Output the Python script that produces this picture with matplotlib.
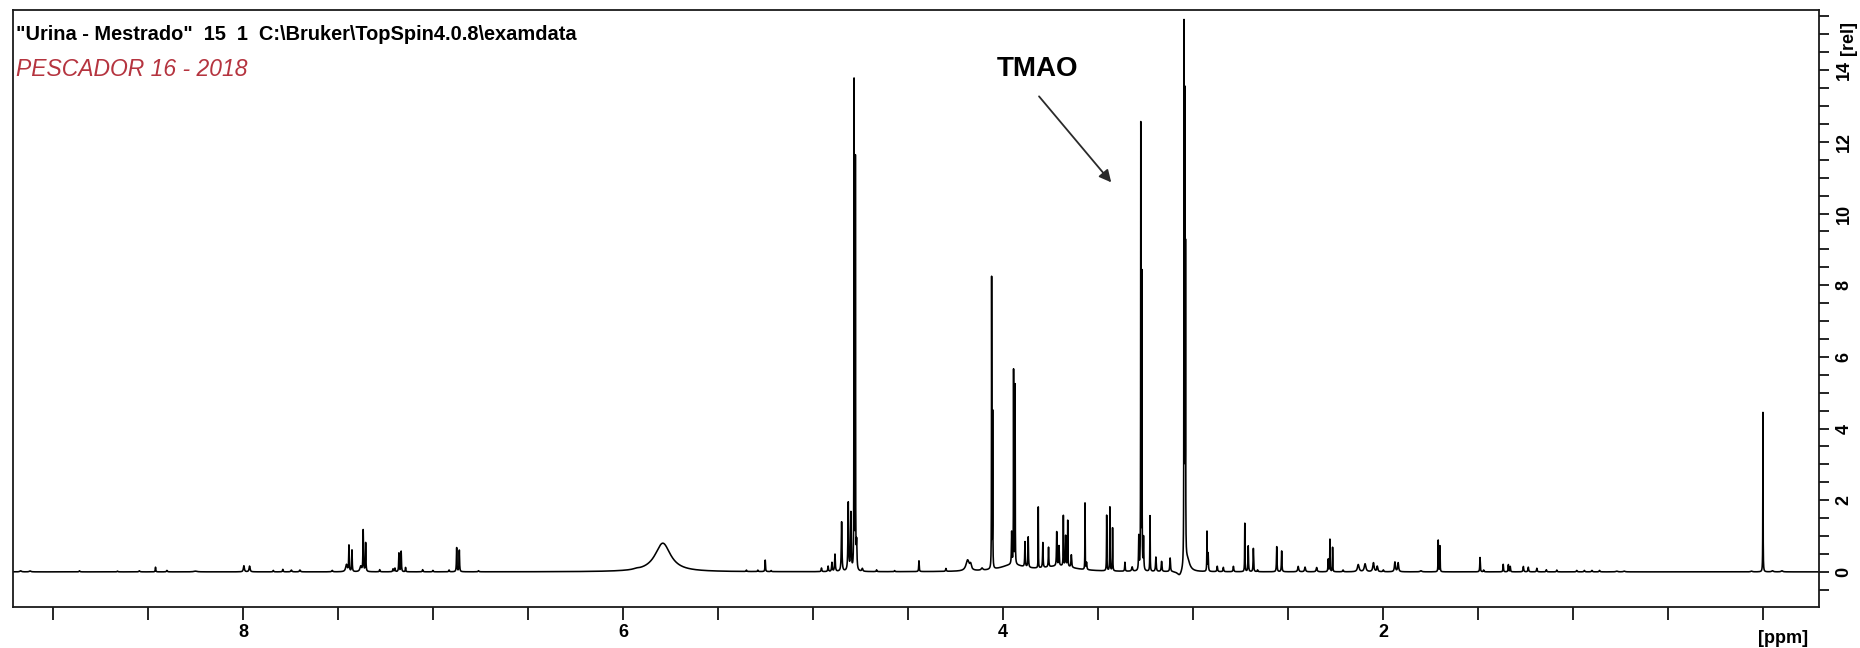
import numpy as np
import matplotlib
matplotlib.use("Agg")
import matplotlib.pyplot as plt
from matplotlib.ticker import FixedLocator, MultipleLocator

plt.rcParams["font.family"] = ["Liberation Sans", "DejaVu Sans"]

# 1H NMR signals of the urine sample: chemical shift (ppm), intensity (rel), line width (ppm)
shift_ppm = [
    9.17, 9.12, 8.86, 8.66, 8.545, 8.46, 8.40, 8.25, 7.995, 7.965,
    7.84, 7.79, 7.745, 7.70, 7.53, 7.455, 7.442, 7.426, 7.38, 7.367,
    7.354, 7.28, 7.21, 7.20, 7.179, 7.167, 7.144, 7.054, 7.00, 6.915,
    6.875, 6.861, 6.76,
    5.93, 5.79, 5.35, 5.29, 5.251, 5.22,
    4.955, 4.92, 4.90, 4.884, 4.849, 4.814, 4.800, 4.7835, 4.7765, 4.770,
    4.74, 4.665, 4.57, 4.442, 4.30, 4.186, 4.17, 4.11,
    4.0595, 4.054, 3.95, 3.70, 3.954, 3.944, 3.936, 3.884, 3.867, 3.814,
    3.79, 3.76, 3.717, 3.705, 3.682, 3.670, 3.659, 3.64, 3.568, 3.56,
    3.454, 3.437, 3.423, 3.358, 3.32, 3.285, 3.2745, 3.2685, 3.26, 3.226,
    3.195, 3.165, 3.12, 3.07, 3.047, 3.043, 3.039, 3.03,
    2.926, 2.92, 2.872, 2.84, 2.787, 2.727, 2.709, 2.682, 2.66, 2.559,
    2.533, 2.446, 2.41, 2.349, 2.288, 2.279, 2.265, 2.21, 2.13, 2.094,
    2.05, 2.03, 1.998, 1.937, 1.92, 1.80, 1.709, 1.70, 1.489, 1.47,
    1.367, 1.34, 1.33, 1.261, 1.235, 1.19, 1.14, 1.085,
    0.98, 0.94, 0.90, 0.86, 0.77, 0.73, 0.06, 0.0, -0.05, -0.10,
]
intensity = [
    0.03, 0.025, 0.03, 0.02, 0.03, 0.13, 0.04, 0.02, 0.17, 0.16,
    0.04, 0.07, 0.05, 0.05, 0.04, 0.2, 0.72, 0.6, 0.15, 1.15,
    0.8, 0.06, 0.08, 0.1, 0.52, 0.57, 0.12, 0.06, 0.04, 0.05,
    0.67, 0.6, 0.03,
    0.02, 0.80, 0.04, 0.04, 0.32, 0.03,
    0.1, 0.15, 0.25, 0.48, 1.38, 1.9, 1.6, 13.6, 11.4, 0.75,
    0.08, 0.05, 0.03, 0.3, 0.08, 0.3, 0.15, 0.06,
    8.1, 4.3, 0.18, 0.15, 0.9, 5.4, 5.0, 0.7, 0.85, 1.7,
    0.7, 0.55, 0.95, 0.55, 1.4, 0.85, 1.28, 0.35, 1.85, 0.2,
    1.55, 1.78, 1.2, 0.25, 0.12, 0.95, 12.4, 8.2, 0.9, 1.55,
    0.4, 0.28, 0.38, -0.15, 14.8, 12.6, 8.5, 0.35,
    1.1, 0.5, 0.15, 0.12, 0.15, 1.35, 0.72, 0.65, 0.05, 0.7,
    0.58, 0.15, 0.13, 0.12, 0.35, 0.9, 0.68, 0.05, 0.2, 0.22,
    0.25, 0.15, 0.05, 0.27, 0.25, 0.03, 0.88, 0.72, 0.4, 0.05,
    0.21, 0.2, 0.15, 0.15, 0.13, 0.1, 0.06, 0.05,
    0.04, 0.04, 0.04, 0.04, 0.02, 0.02, 0.02, 4.45, 0.03, 0.03,
]
linewidth_ppm = [
    0.01, 0.01, 0.005, 0.005, 0.006, 0.003, 0.005, 0.02, 0.006, 0.006,
    0.004, 0.004, 0.006, 0.006, 0.006, 0.01, 0.003, 0.003, 0.01, 0.003,
    0.003, 0.004, 0.004, 0.004, 0.003, 0.003, 0.003, 0.004, 0.004, 0.004,
    0.003, 0.003, 0.005,
    0.03, 0.10, 0.004, 0.004, 0.003, 0.004,
    0.004, 0.004, 0.004, 0.004, 0.004, 0.004, 0.004, 0.0015, 0.0015, 0.004,
    0.006, 0.004, 0.004, 0.003, 0.004, 0.02, 0.01, 0.01,
    0.0015, 0.0015, 0.15, 0.2, 0.003, 0.0015, 0.0015, 0.003, 0.003, 0.0015,
    0.003, 0.003, 0.003, 0.003, 0.002, 0.003, 0.002, 0.004, 0.0015, 0.004,
    0.002, 0.002, 0.002, 0.003, 0.006, 0.003, 0.0015, 0.0015, 0.003, 0.002,
    0.004, 0.004, 0.004, 0.03, 0.0015, 0.0015, 0.0015, 0.03,
    0.002, 0.003, 0.004, 0.004, 0.004, 0.002, 0.003, 0.003, 0.004, 0.003,
    0.003, 0.006, 0.006, 0.006, 0.003, 0.002, 0.002, 0.005, 0.01, 0.01,
    0.008, 0.006, 0.005, 0.006, 0.006, 0.01, 0.002, 0.002, 0.003, 0.004,
    0.003, 0.003, 0.003, 0.004, 0.004, 0.004, 0.004, 0.004,
    0.005, 0.005, 0.005, 0.005, 0.01, 0.01, 0.01, 0.0015, 0.01, 0.01,
]

title_text = '"Urina - Mestrado"  15  1  C:\\Bruker\\TopSpin4.0.8\\examdata'
sample_text = "PESCADOR 16 - 2018"
annotation_text = "TMAO"
x_tick_labels = {8: "8", 6: "6", 4: "4", 2: "2"}
y_tick_values = [0, 2, 4, 6, 8, 10, 12, 14]

# Spectrum as a sum of Lorentzian lines
centers = np.asarray(shift_ppm)
heights = np.asarray(intensity)
widths = np.asarray(linewidth_ppm)
ppm = np.union1d(np.linspace(-0.4, 9.4, 26000), centers)[::-1]
hw = (widths / 2.0)[:, None]
spectrum = (heights[:, None] * hw**2 / ((ppm[None, :] - centers[:, None]) ** 2 + hw**2)).sum(axis=0)

fig = plt.figure(figsize=(18.6, 6.48), dpi=100)
ax = fig.add_axes([13 / 1860, 41 / 648, (1819 - 13) / 1860, (607 - 10) / 648])
ax.plot(ppm, spectrum, color="black", lw=1.15)

ax.set_xlim(9.21, -0.295)
ax.set_ylim(-0.98, 15.68)

for s in ax.spines.values():
    s.set_linewidth(1.3)
    s.set_color("#1a1a1a")

# x axis: ticks every 0.5 ppm, labels every 2 ppm
ax.xaxis.set_major_locator(FixedLocator(list(x_tick_labels.keys())))
ax.set_xticklabels(list(x_tick_labels.values()))
ax.xaxis.set_minor_locator(MultipleLocator(0.5))
ax.tick_params(axis="x", which="both", direction="out", length=9, width=1.2,
               pad=3, labelsize=13)
for t in ax.get_xticklabels():
    t.set_fontweight("bold")
ax.text(-0.105, -0.038, "[ppm]", transform=ax.get_xaxis_transform(),
        ha="center", va="top", fontsize=13, fontweight="bold")

# y axis on the right, rotated labels
ax.yaxis.tick_right()
ax.yaxis.set_major_locator(FixedLocator(y_tick_values))
ax.yaxis.set_minor_locator(MultipleLocator(0.5))
ax.tick_params(axis="y", which="both", direction="out", length=7, width=1.2,
               pad=5, labelsize=13, left=False, right=True)
for t in ax.get_yticklabels():
    t.set_fontweight("bold")
    t.set_rotation(90)
    t.set_va("center")
ax.text(1.0 + 21 / 1806, 14.42, "[rel]", transform=ax.get_yaxis_transform(),
        ha="left", va="bottom", rotation=90, fontsize=13, fontweight="bold")

# header texts
fig.text(16 / 1860, 1 - 34 / 648, title_text, ha="left", va="center",
         fontsize=14.4, fontweight="bold", color="black")
fig.text(16 / 1860, 1 - 70 / 648, sample_text, ha="left", va="center",
         fontsize=16.5, fontstyle="italic", color="#b5343f")

# TMAO label and arrow
ax.text(3.82, 14.02, annotation_text, ha="center", va="center",
        fontsize=20, fontweight="bold")
ax.annotate("", xy=(3.43, 10.87), xytext=(3.81, 13.27),
            arrowprops=dict(arrowstyle="-|>", lw=1.3, color="#2a2a2a",
                            mutation_scale=18, shrinkA=0, shrinkB=0))

fig.savefig("out.png", dpi=100)
